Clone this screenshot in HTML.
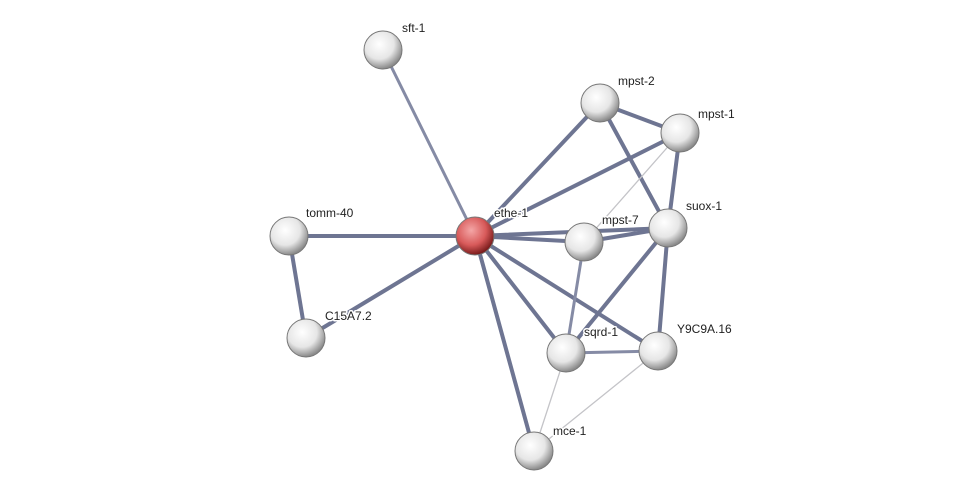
<!DOCTYPE html>
<html><head><meta charset="utf-8"><style>
html,body{margin:0;padding:0;background:#fff;}
svg{display:block;}
text{font-family:"Liberation Sans",sans-serif;font-size:12px;fill:#222;stroke:#fff;stroke-width:3px;paint-order:stroke;stroke-linejoin:round;}
</style></head><body>
<svg width="975" height="497" viewBox="0 0 975 497" xmlns="http://www.w3.org/2000/svg">
<defs>
<radialGradient id="g" cx="40%" cy="35%" r="65%">
<stop offset="0" stop-color="#ffffff"/><stop offset="0.6" stop-color="#e6e6e6"/><stop offset="1" stop-color="#8a8a8a"/>
</radialGradient>
<radialGradient id="r" cx="40%" cy="35%" r="65%">
<stop offset="0" stop-color="#f4a6a6"/><stop offset="0.6" stop-color="#d85a5a"/><stop offset="1" stop-color="#7a1c1c"/>
</radialGradient>
</defs>
<g stroke-linecap="round">
<g stroke="#6e7592" stroke-width="4">
<line x1="475" y1="236" x2="289" y2="236"/>
<line x1="475" y1="236" x2="306" y2="338"/>
<line x1="289" y1="236" x2="306" y2="338"/>
<line x1="475" y1="236" x2="600" y2="103"/>
<line x1="475" y1="236" x2="680" y2="133"/>
<line x1="475" y1="236" x2="584" y2="242"/>
<line x1="475" y1="236" x2="668" y2="228"/>
<line x1="475" y1="236" x2="566" y2="353"/>
<line x1="475" y1="236" x2="658" y2="351"/>
<line x1="475" y1="236" x2="534" y2="451"/>
<line x1="600" y1="103" x2="680" y2="133"/>
<line x1="600" y1="103" x2="668" y2="228"/>
<line x1="680" y1="133" x2="668" y2="228"/>
<line x1="584" y1="242" x2="668" y2="228"/>
<line x1="668" y1="228" x2="566" y2="353"/>
<line x1="668" y1="228" x2="658" y2="351"/>
</g>
<g stroke="#858ba5" stroke-width="3">
<line x1="475" y1="236" x2="383" y2="50"/>
<line x1="584" y1="242" x2="566" y2="353"/>
<line x1="566" y1="353" x2="658" y2="351"/>
</g>
<g stroke="#c4c4c8" stroke-width="1.3">
<line x1="680" y1="133" x2="584" y2="242"/>
<line x1="566" y1="353" x2="534" y2="451"/>
<line x1="658" y1="351" x2="534" y2="451"/>
</g>
</g>
<g stroke="#777" stroke-width="1">
<circle cx="383" cy="50" r="19" fill="url(#g)"/>
<circle cx="600" cy="103" r="19" fill="url(#g)"/>
<circle cx="680" cy="133" r="19" fill="url(#g)"/>
<circle cx="289" cy="236" r="19" fill="url(#g)"/>
<circle cx="475" cy="236" r="19" fill="url(#r)"/>
<circle cx="584" cy="242" r="19" fill="url(#g)"/>
<circle cx="668" cy="228" r="19" fill="url(#g)"/>
<circle cx="306" cy="338" r="19" fill="url(#g)"/>
<circle cx="566" cy="353" r="19" fill="url(#g)"/>
<circle cx="658" cy="351" r="19" fill="url(#g)"/>
<circle cx="534" cy="451" r="19" fill="url(#g)"/>
</g>
<text x="402" y="32">sft-1</text>
<text x="618" y="85">mpst-2</text>
<text x="698" y="118">mpst-1</text>
<text x="306" y="217">tomm-40</text>
<text x="494" y="217">ethe-1</text>
<text x="602" y="224">mpst-7</text>
<text x="686" y="210">suox-1</text>
<text x="325" y="320">C15A7.2</text>
<text x="584" y="336">sqrd-1</text>
<text x="677" y="333">Y9C9A.16</text>
<text x="553" y="435">mce-1</text>
</svg>
</body></html>
